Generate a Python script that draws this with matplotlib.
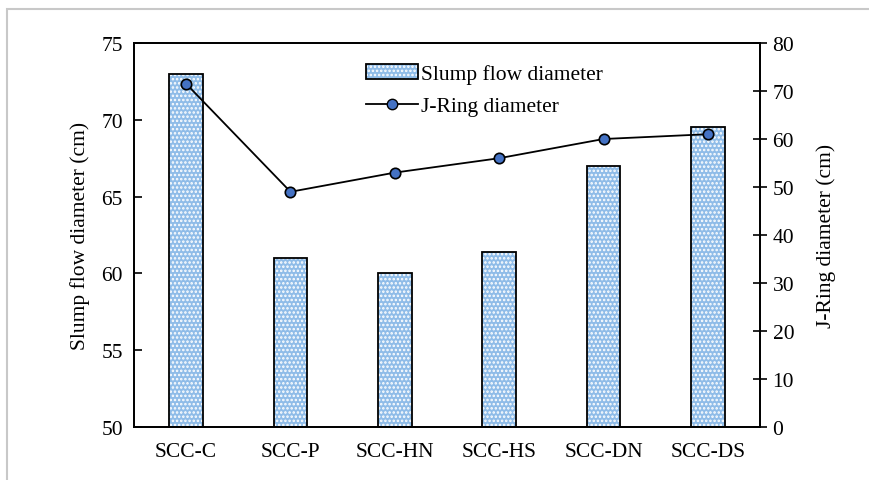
import matplotlib.pyplot as plt
import numpy as np
from matplotlib.patches import Patch, Rectangle
from matplotlib.lines import Line2D

plt.rcParams['font.family'] = ['Liberation Serif', 'DejaVu Serif']
plt.rcParams['hatch.linewidth'] = 1.2

# datos
mezclas = ["SCC-C", "SCC-P", "SCC-HN", "SCC-HS", "SCC-DN", "SCC-DS"]
slump_flow = [73.0, 61.0, 60.0, 61.4, 67.0, 69.5]
j_ring = [71.5, 49.0, 53.0, 56.0, 60.0, 61.0]

fs = 15.5

fig = plt.figure(figsize=(8.7, 4.81), dpi=100)
ax = fig.add_axes([0.154, 0.1102, 0.7196, 0.7983])

x = np.arange(len(mezclas))
ancho = 0.32

# barras con textura de puntos
ax.bar(x, np.array(slump_flow) - 50, ancho, bottom=50, color='#8fbce8',
       hatch='....', edgecolor='white', linewidth=0, zorder=2)
ax.bar(x, np.array(slump_flow) - 50, ancho, bottom=50, fill=False,
       edgecolor='black', linewidth=1.3, zorder=3)

ax.set_xlim(-0.5, len(mezclas) - 0.5)
ax.set_ylim(50, 75)
ax.set_yticks(np.arange(50, 76, 5))
ax.set_xticks(x)
ax.set_xticklabels(mezclas, fontsize=fs)
ax.tick_params(axis='y', direction='in', labelsize=fs, length=6, width=1.2, pad=8)
ax.tick_params(axis='x', length=0, labelsize=fs, pad=11)
ax.set_ylabel("Slump flow diameter (cm)", fontsize=fs, labelpad=8)
for s in ax.spines.values():
    s.set_linewidth(1.3)

# eje derecho para el J-Ring
ax2 = ax.twinx()
ax2.plot(x, j_ring, color='black', linewidth=1.3, marker='o', markersize=7.5,
         markerfacecolor='#4472c4', markeredgecolor='black', markeredgewidth=1.2,
         zorder=5)
ax2.set_ylim(0, 80)
ax2.set_yticks(np.arange(0, 81, 10))
ax2.tick_params(axis='y', direction='inout', labelsize=fs, length=10, width=1.2, pad=4)
ax2.set_ylabel("J-Ring diameter (cm)", fontsize=fs, labelpad=16)
for s in ax2.spines.values():
    s.set_linewidth(1.3)

# leyenda
h_bar = (Patch(facecolor='#8fbce8', hatch='....', edgecolor='white', linewidth=0),
         Patch(fill=False, edgecolor='black', linewidth=1.3))
h_line = Line2D([], [], color='black', linewidth=1.3, marker='o', markersize=7.5,
                markerfacecolor='#4472c4', markeredgecolor='black')
ax2.legend([h_bar, h_line], ["Slump flow diameter", "J-Ring diameter"],
           loc='upper left', bbox_to_anchor=(0.34, 0.995), frameon=False,
           fontsize=fs, handlelength=2.4, handletextpad=0.15, labelspacing=0.55)

# marco gris alrededor de la figura
fig.patches.append(Rectangle((0.008, -0.05), 1.1, 1.03, transform=fig.transFigure,
                             fill=False, edgecolor='#c8c8c8', linewidth=1.5))

fig.savefig("out.png", dpi=100)
